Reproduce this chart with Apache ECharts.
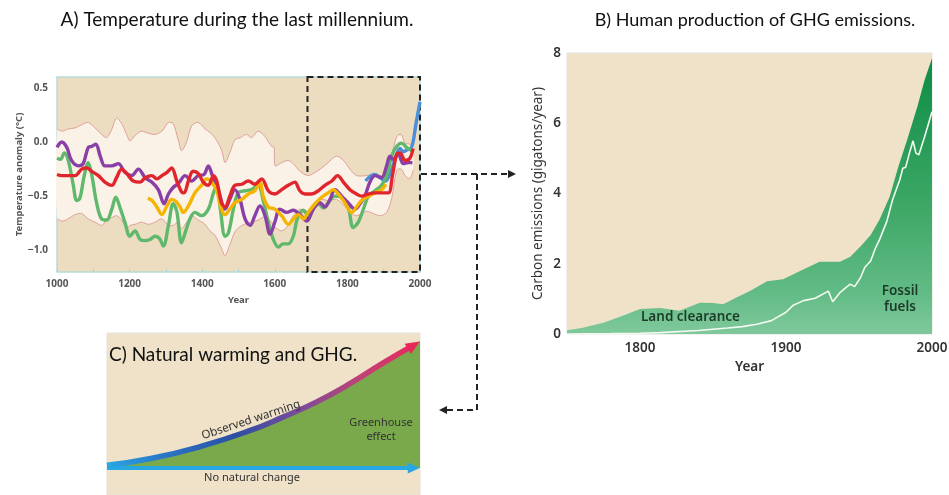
<!DOCTYPE html>
<html><head><meta charset="utf-8">
<script src="https://cdn.jsdelivr.net/npm/echarts@6/dist/echarts.min.js"></script>
<style>html,body{margin:0;padding:0;background:#fff}#c{width:949px;height:495px}</style>
</head><body><div id="c"></div>
<script>
// ---------- Panel A: temperature reconstructions ----------
const tempYearTicks = [1000, 1200, 1400, 1600, 1800, 2000];
const tempValueTicks = [-1.0, -0.5, 0.0, 0.5];

const bandYears = [1000,1015,1030,1050,1068,1086,1105,1123,1137,1150,1164,1178,1192,1201,1215,1233,1252,1270,1289,1307,1320,1334,1343,1357,1371,1389,1408,1421,1435,1453,1463,1476,1490,1505,1522,1536,1554,1573,1591,1598,1601,1619,1637,1651,1669,1692,1711,1729,1747,1770,1789,1807,1825,1853,1871,1890,1908,1922,1936,1948,1959,1972,1981];
const bandUpper = [0.12,0.10,0.12,0.13,0.16,0.18,0.13,0.07,0.04,0.11,0.22,0.17,0.07,0.01,0.06,0.10,0.08,0.07,0.10,0.18,0.17,0.02,-0.08,0.00,0.15,0.18,0.12,0.09,0.04,-0.07,-0.19,-0.10,0.02,0.04,0.07,0.04,0.10,0.05,-0.04,-0.05,-0.22,-0.19,-0.17,-0.20,-0.27,-0.31,-0.28,-0.24,-0.19,-0.13,-0.17,-0.25,-0.31,-0.31,-0.30,-0.31,-0.30,-0.13,0.05,0.07,-0.01,-0.02,-0.03];
const bandLower = [-0.71,-0.73,-0.71,-0.67,-0.66,-0.71,-0.74,-0.77,-0.72,-0.70,-0.68,-0.72,-0.80,-0.77,-0.76,-0.74,-0.76,-0.74,-0.71,-0.77,-0.77,-0.74,-0.80,-0.74,-0.68,-0.72,-0.76,-0.82,-0.86,-0.98,-1.05,-0.95,-0.83,-0.78,-0.75,-0.74,-0.72,-0.69,-0.74,-0.78,-0.79,-0.82,-0.77,-0.68,-0.62,-0.64,-0.56,-0.53,-0.54,-0.53,-0.58,-0.65,-0.68,-0.64,-0.66,-0.68,-0.65,-0.52,-0.26,-0.25,-0.31,-0.34,-0.26];

const greenYears = [1000,1010,1020,1031,1045,1054,1063,1075,1086,1095,1109,1123,1137,1151,1162,1174,1187,1201,1215,1229,1243,1256,1270,1282,1293,1307,1320,1330,1343,1352,1366,1380,1398,1417,1431,1440,1450,1463,1472,1486,1499,1518,1536,1554,1568,1582,1596,1610,1623,1637,1651,1662,1679,1692,1706,1720,1734,1747,1766,1784,1802,1816,1830,1844,1858,1876,1894,1908,1922,1936,1949,1963,1977];
const greenTemp = [-0.15,-0.16,-0.10,-0.17,-0.40,-0.54,-0.52,-0.31,-0.19,-0.29,-0.56,-0.71,-0.72,-0.62,-0.51,-0.61,-0.74,-0.87,-0.82,-0.90,-0.91,-0.90,-0.87,-0.89,-0.96,-0.77,-0.57,-0.64,-0.93,-0.85,-0.71,-0.65,-0.68,-0.62,-0.47,-0.40,-0.62,-0.87,-0.84,-0.62,-0.47,-0.45,-0.44,-0.40,-0.54,-0.74,-0.90,-0.97,-0.94,-0.94,-0.87,-0.71,-0.63,-0.68,-0.61,-0.57,-0.61,-0.56,-0.50,-0.51,-0.60,-0.79,-0.74,-0.62,-0.50,-0.45,-0.40,-0.31,-0.13,-0.04,-0.01,-0.05,-0.08];

const purpleYears = [1000,1013,1027,1040,1059,1072,1086,1096,1107,1119,1132,1151,1169,1187,1206,1224,1243,1261,1279,1295,1307,1320,1335,1353,1371,1389,1405,1417,1428,1444,1463,1476,1490,1504,1518,1532,1545,1559,1573,1587,1600,1614,1633,1651,1669,1688,1706,1724,1738,1752,1766,1784,1802,1821,1835,1848,1862,1876,1894,1908,1917,1926,1940,1954,1968,1979];
const purpleTemp = [-0.05,0.00,-0.05,-0.17,-0.22,-0.20,-0.05,-0.04,-0.02,-0.13,-0.22,-0.22,-0.20,-0.28,-0.31,-0.25,-0.33,-0.37,-0.44,-0.57,-0.48,-0.42,-0.38,-0.31,-0.36,-0.31,-0.30,-0.22,-0.31,-0.44,-0.62,-0.53,-0.44,-0.53,-0.71,-0.77,-0.68,-0.59,-0.68,-0.85,-0.74,-0.62,-0.65,-0.63,-0.67,-0.73,-0.62,-0.56,-0.60,-0.53,-0.44,-0.50,-0.56,-0.62,-0.57,-0.50,-0.37,-0.31,-0.33,-0.22,-0.13,-0.16,-0.11,-0.20,-0.19,-0.19];

const redYears = [1000,1013,1031,1050,1068,1082,1095,1114,1132,1151,1164,1178,1192,1210,1229,1243,1261,1275,1289,1303,1316,1330,1343,1350,1362,1375,1389,1403,1417,1431,1440,1453,1463,1476,1490,1509,1527,1545,1564,1582,1600,1619,1637,1655,1669,1683,1701,1720,1738,1757,1773,1789,1807,1825,1839,1858,1876,1894,1913,1924,1936,1945,1959,1972,1981];
const redTemp = [-0.30,-0.31,-0.31,-0.31,-0.25,-0.24,-0.27,-0.31,-0.37,-0.40,-0.33,-0.25,-0.29,-0.36,-0.37,-0.33,-0.31,-0.34,-0.31,-0.28,-0.24,-0.36,-0.46,-0.47,-0.36,-0.27,-0.29,-0.37,-0.40,-0.31,-0.36,-0.56,-0.60,-0.50,-0.40,-0.39,-0.36,-0.39,-0.34,-0.45,-0.48,-0.44,-0.40,-0.37,-0.45,-0.48,-0.48,-0.45,-0.40,-0.36,-0.31,-0.37,-0.44,-0.48,-0.50,-0.48,-0.47,-0.47,-0.47,-0.31,-0.11,-0.10,-0.17,-0.15,-0.06];

const yellowYears = [1250,1262,1275,1289,1303,1316,1328,1339,1348,1362,1380,1398,1412,1426,1440,1453,1463,1476,1490,1509,1527,1545,1559,1568,1582,1600,1619,1637,1651,1665,1679,1692,1711,1729,1747,1761,1775,1793,1812,1825,1839,1858,1876,1894,1906];
const yellowTemp = [-0.52,-0.54,-0.60,-0.67,-0.59,-0.53,-0.55,-0.60,-0.65,-0.59,-0.47,-0.40,-0.34,-0.37,-0.45,-0.62,-0.67,-0.62,-0.56,-0.53,-0.48,-0.45,-0.37,-0.50,-0.60,-0.62,-0.68,-0.76,-0.71,-0.67,-0.71,-0.65,-0.57,-0.51,-0.47,-0.44,-0.48,-0.56,-0.65,-0.60,-0.54,-0.50,-0.47,-0.44,-0.39];

const blueYears = [1850,1862,1875,1890,1905,1920,1935,1945,1955,1965,1975,1982,1988,1994,2000];
const blueTemp = [-0.36,-0.32,-0.30,-0.33,-0.36,-0.27,-0.12,-0.06,-0.09,-0.07,-0.06,0.02,0.15,0.26,0.37];

// ---------- Panel B: carbon emissions ----------
const emissionYearTicks = [1800, 1900, 2000];
const totalYears = [1750,1760,1775,1790,1800,1814,1827,1841,1850,1857,1865,1875,1887,1898,1910,1923,1937,1944,1951,1958,1964,1971,1977,1983,1990,1995,2000];
const totalEmission = [0.11,0.17,0.32,0.55,0.71,0.74,0.66,0.89,0.88,0.85,1.02,1.22,1.50,1.56,1.80,2.06,2.06,2.20,2.49,2.82,3.25,3.91,4.77,5.53,6.48,7.24,7.85];
const fossilYears = [1750,1780,1800,1814,1840,1860,1870,1880,1890,1900,1905,1912,1920,1929,1932,1937,1941,1944,1947,1951,1954,1958,1961,1964,1969,1973,1978,1980,1982,1985,1987,1989,1991,1995,2000];
const fossilEmission = [0.0,0.01,0.02,0.04,0.10,0.17,0.21,0.28,0.38,0.62,0.82,0.95,1.02,1.22,0.92,1.18,1.32,1.42,1.35,1.60,1.90,2.08,2.42,2.68,3.20,3.82,4.40,4.72,4.75,5.22,5.50,5.15,5.10,5.62,6.33];

// ---------- Panel C: schematic ----------
const warmX = [0, 14, 30, 46, 56, 67, 78, 88, 98];
const warmY = [2, 7, 16, 28, 37.5, 49, 63, 77.5, 91];
const greenhouseX = [0, 14, 30, 46, 56, 67, 78, 88, 98, 100];
const greenhouseY = [2, 7, 16, 28, 37.5, 49, 63, 77.5, 91, 94];
const baselineX = [0, 98];
const baselineY = [0, 0];

const pair = (xs, ys) => xs.map((x, i) => [x, ys[i]]);
const arrowEnd = (xs, ys, rot, color, size) => xs.map((x, i) => i === xs.length - 1
  ? {value: [x, ys[i]], symbol: 'triangle', symbolSize: size, symbolRotate: rot, itemStyle: {color: color}}
  : {value: [x, ys[i]], symbol: 'none'});

const F = 'Noto Sans';
const chart = echarts.init(document.getElementById('c'), null, {renderer: 'canvas', width: 949, height: 495});

const tempLine = (name, xs, ys, color, z) => ({
  name, type: 'line', xAxisIndex: 0, yAxisIndex: 0, data: pair(xs, ys), symbol: 'none', smooth: 0.35,
  lineStyle: {color, width: 3.4}, z, silent: true
});

// uncertainty band drawn through the axis scales
const bandSeries = {
  type: 'custom', coordinateSystem: 'cartesian2d', xAxisIndex: 0, yAxisIndex: 0, silent: true, z: 2,
  data: pair(bandYears, bandUpper),
  renderItem: (params, api) => {
    if (params.dataIndex !== 0) return null;
    const up = bandYears.map((y, i) => api.coord([y, bandUpper[i]]));
    const lo = bandYears.map((y, i) => api.coord([y, bandLower[i]]));
    const poly = up.concat(lo.slice().reverse());
    return {type: 'group', children: [
      {type: 'polygon', shape: {points: poly, smooth: 0.3}, style: {fill: '#fbf2e7', stroke: null}},
      {type: 'polyline', shape: {points: up, smooth: 0.3}, style: {stroke: '#e0a09a', lineWidth: 1, fill: null}},
      {type: 'polyline', shape: {points: lo, smooth: 0.3}, style: {stroke: '#e0a09a', lineWidth: 1, fill: null}}
    ]};
  }
};

const option = {
  animation: false,
  backgroundColor: '#ffffff',
  grid: [
    {left: 57, top: 77, width: 363, height: 195, show: true, backgroundColor: '#ecdcc0', borderColor: '#b5dcd8', borderWidth: 1.5, outerBoundsMode: 'none'},
    {left: 567, top: 53, width: 365, height: 281, show: true, backgroundColor: '#efe2c8', borderColor: '#dfe4dc', borderWidth: 1, outerBoundsMode: 'none'},
    {left: 107, top: 333, width: 313, height: 162, show: true, backgroundColor: '#efe2c8', borderColor: '#e3e1da', borderWidth: 1, outerBoundsMode: 'none'}
  ],
  xAxis: [
    {gridIndex: 0, type: 'value', min: 1000, max: 2000, interval: 100,
     name: 'Year', nameLocation: 'middle', nameGap: 23,
     nameTextStyle: {fontFamily: F, fontSize: 9.5, fontWeight: 'bold', color: '#555'},
     axisLine: {show: false, onZero: false}, splitLine: {show: false},
     axisTick: {show: true, inside: true, length: 3, lineStyle: {color: '#a9d3cf', width: 1}},
     axisLabel: {formatter: v => tempYearTicks.indexOf(Math.round(v)) >= 0 ? String(Math.round(v)) : '', margin: 7,
                 fontFamily: F, fontSize: 10, fontWeight: 'bold', color: '#555'}},
    {gridIndex: 1, type: 'value', min: 1750, max: 2000, interval: 50,
     name: 'Year', nameLocation: 'middle', nameGap: 16,
     nameTextStyle: {fontFamily: F, fontSize: 13.5, fontWeight: 600, color: '#333'},
     axisLine: {show: false, onZero: false}, splitLine: {show: false},
     axisTick: {show: true, inside: true, length: 4, lineStyle: {color: 'rgba(255,255,255,0.55)', width: 1}},
     axisLabel: {formatter: v => emissionYearTicks.indexOf(Math.round(v)) >= 0 ? String(Math.round(v)) : '', margin: 7,
                 fontFamily: F, fontSize: 13.5, fontWeight: 600, color: '#333'}},
    {gridIndex: 2, type: 'value', min: 0, max: 100, show: false}
  ],
  yAxis: [
    {gridIndex: 0, type: 'value', min: -1.2, max: 0.6, interval: 0.1,
     name: 'Temperature anomaly (°C)', nameLocation: 'middle', nameGap: 33,
     nameTextStyle: {fontFamily: F, fontSize: 9.5, fontWeight: 'bold', color: '#555'},
     axisLine: {show: false, onZero: false}, axisTick: {show: false}, splitLine: {show: false},
     axisLabel: {margin: 9, fontFamily: F, fontSize: 10, fontWeight: 'bold', color: '#555',
                 formatter: v => {
                   const t = tempValueTicks.find(t => Math.abs(t - v) < 1e-6);
                   if (t === undefined) return '';
                   return (t < 0 ? '\u2212' : '') + Math.abs(t).toFixed(1);
                 }}},
    {gridIndex: 1, type: 'value', min: 0, max: 8, interval: 2,
     name: 'Carbon emissions (gigatons/year)', nameLocation: 'middle', nameGap: 22,
     nameTextStyle: {fontFamily: F, fontSize: 13.5, color: '#333'},
     axisLine: {show: false, onZero: false}, axisTick: {show: false}, splitLine: {show: false},
     axisLabel: {margin: 6, fontFamily: F, fontSize: 13.5, fontWeight: 600, color: '#333'}},
    {gridIndex: 2, type: 'value', min: -20, max: 100, show: false}
  ],
  series: [
    bandSeries,
    tempLine('blue', blueYears, blueTemp, '#4a8fd8', 3),
    tempLine('green', greenYears, greenTemp, '#5fb86c', 4),
    tempLine('purple', purpleYears, purpleTemp, '#8a3fa6', 5),
    tempLine('yellow', yellowYears, yellowTemp, '#f4b400', 6),
    tempLine('red', redYears, redTemp, '#e0262c', 7),
    {type: 'line', xAxisIndex: 0, yAxisIndex: 0, data: [], z: 20, silent: true,
     markArea: {silent: true, label: {show: false},
       itemStyle: {color: 'rgba(0,0,0,0)', borderColor: '#222', borderWidth: 2, borderType: [6, 4]},
       data: [[{coord: [1690, 0.6]}, {coord: [2000, -1.2]}]]}},

    {type: 'line', xAxisIndex: 1, yAxisIndex: 1, data: pair(totalYears, totalEmission), symbol: 'none',
     lineStyle: {width: 0, opacity: 0}, silent: true,
     areaStyle: {opacity: 1, color: new echarts.graphic.LinearGradient(0, 0, 0, 1, [
       {offset: 0, color: '#0d8c45'}, {offset: 0.55, color: '#3ea867'}, {offset: 0.85, color: '#62bb85'}, {offset: 1, color: '#80c89c'}])}},
    {type: 'line', xAxisIndex: 1, yAxisIndex: 1, data: pair(fossilYears, fossilEmission), symbol: 'none',
     lineStyle: {color: '#f2fbf0', width: 1.6}, silent: true},

    {type: 'line', xAxisIndex: 2, yAxisIndex: 2, data: pair(greenhouseX, greenhouseY), symbol: 'none', smooth: true,
     lineStyle: {width: 0, opacity: 0}, areaStyle: {color: '#79a94b', opacity: 1}, silent: true},
    {type: 'line', xAxisIndex: 2, yAxisIndex: 2, data: arrowEnd(baselineX, baselineY, -90, '#27a7e4', [11, 12]),
     showSymbol: true, lineStyle: {color: '#27a7e4', width: 4}, silent: true, z: 4},
    {type: 'line', xAxisIndex: 2, yAxisIndex: 2, data: arrowEnd(warmX, warmY, -58, '#e8285a', [12, 14]),
     showSymbol: true, smooth: true, silent: true, z: 5,
     lineStyle: {width: 5.5, color: new echarts.graphic.LinearGradient(0, 0, 1, 0, [
       {offset: 0, color: '#29a9e6'}, {offset: 0.2, color: '#2a74c6'}, {offset: 0.42, color: '#2c4ea4'},
       {offset: 0.62, color: '#7a4c9a'}, {offset: 0.82, color: '#c04276'}, {offset: 1, color: '#e8285a'}])}}
  ],
  graphic: [
    {type: 'text', x: 237, y: 20, z: 100, style: {text: 'A) Temperature during the last millennium.', fontFamily: 'Lato', fontSize: 19, fill: '#111', align: 'center', verticalAlign: 'middle'}},
    {type: 'text', x: 755, y: 20, z: 100, style: {text: 'B) Human production of GHG emissions.', fontFamily: 'Lato', fontSize: 18, fill: '#111', align: 'center', verticalAlign: 'middle'}},
    {type: 'text', x: 109, y: 355, z: 100, style: {text: 'C) Natural warming and GHG.', fontFamily: 'Lato', fontSize: 19, fill: '#111', align: 'left', verticalAlign: 'middle'}},
    {type: 'text', x: 641, y: 317, z: 100, style: {text: 'Land clearance', fontFamily: F, fontSize: 13.5, fontWeight: 600, fill: '#1c3b29', align: 'left', verticalAlign: 'middle'}},
    {type: 'text', x: 900, y: 291, z: 100, style: {text: 'Fossil', fontFamily: F, fontSize: 13.5, fontWeight: 600, fill: '#1c3b29', align: 'center', verticalAlign: 'middle'}},
    {type: 'text', x: 900, y: 307, z: 100, style: {text: 'fuels', fontFamily: F, fontSize: 13.5, fontWeight: 600, fill: '#1c3b29', align: 'center', verticalAlign: 'middle'}},
    {type: 'text', x: 381, y: 423, z: 100, style: {text: 'Greenhouse', fontFamily: F, fontSize: 11, fill: '#333', align: 'center', verticalAlign: 'middle'}},
    {type: 'text', x: 381, y: 437, z: 100, style: {text: 'effect', fontFamily: F, fontSize: 11, fill: '#333', align: 'center', verticalAlign: 'middle'}},
    {type: 'text', x: 251, y: 420, rotation: 0.32, z: 100, style: {text: 'Observed warming', fontFamily: F, fontSize: 11.5, fill: '#333', align: 'center', verticalAlign: 'middle'}},
    {type: 'text', x: 252, y: 478, z: 100, style: {text: 'No natural change', fontFamily: F, fontSize: 11, fill: '#333', align: 'center', verticalAlign: 'middle'}},
    {type: 'polyline', z: 100, shape: {points: [[421, 174], [509, 174]]}, style: {stroke: '#222', lineWidth: 2, lineDash: [6, 4], fill: null}},
    {type: 'polygon', z: 100, shape: {points: [[516, 174], [508, 170], [508, 178]]}, style: {fill: '#222'}},
    {type: 'polyline', z: 100, shape: {points: [[477, 174], [477, 410], [447, 410]]}, style: {stroke: '#222', lineWidth: 2, lineDash: [6, 4], fill: null}},
    {type: 'polygon', z: 100, shape: {points: [[439, 410], [447, 406], [447, 414]]}, style: {fill: '#222'}}
  ]
};
chart.setOption(option);
</script>
</body></html>
